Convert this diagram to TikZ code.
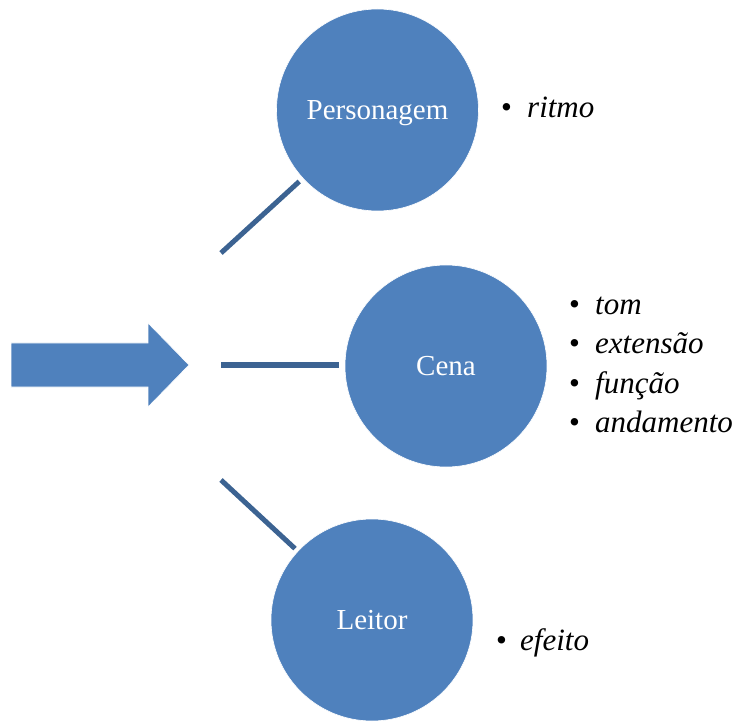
\documentclass[tikz,border=0pt]{standalone}
\usepackage{fontspec}
\setmainfont{Liberation Serif}[ItalicFont={Liberation Serif Italic}]
\definecolor{circblue}{RGB}{79,129,189}
\definecolor{lineblue}{RGB}{60,99,146}
\begin{document}
\begin{tikzpicture}[x=1pt,y=-1pt,
  bubble/.style={circle,fill=circblue,draw=white,line width=0.6pt,minimum size=202pt,inner sep=0pt,outer sep=0pt,
    text=white,text height=19pt,text depth=0pt,font=\fontsize{29}{35}\selectfont},
  link/.style={draw=lineblue,line width=5pt,line cap=butt},
  item/.style={anchor=base west,inner sep=0pt,font=\fontsize{31}{37}\selectfont}]
\useasboundingbox (0,0) rectangle (737,722);
% block arrow
\fill[circblue,draw=white,line width=0.6pt] (11,343) -- (148,343) -- (148,323) -- (189,365) -- (148,407) -- (148,387) -- (11,387) -- cycle;
% circles
\node[bubble] (pers) at (377.5,110) {Personagem};
\node[bubble] (cena) at (446,366) {Cena};
\node[bubble] (leit) at (372,620) {Leitor};
% free ends
\coordinate (j1) at (221,253);
\coordinate (j2) at (221,365);
\coordinate (j3) at (221,480);
\draw[link,shorten >=5pt] (j1) -- (pers);
\draw[link,shorten >=6pt] (j2) -- (cena.west |- j2);
\draw[link,shorten >=4pt] (j3) -- (leit);
% bullet lists
\node[item] (b1) at (501,118) {\makebox[26pt][l]{•}\textit{ritmo}};
\node[item] (b2) at (569,315) {\makebox[26pt][l]{•}\textit{tom}};
\node[item] (b3) at (569,354) {\makebox[26pt][l]{•}\textit{extensão}};
\node[item] (b4) at (569,393) {\makebox[26pt][l]{•}\textit{função}};
\node[item] (b5) at (569,432) {\makebox[26pt][l]{•}\textit{andamento}};
\node[item] (b6) at (496,650) {\makebox[24pt][l]{•}\textit{efeito}};
\end{tikzpicture}
\end{document}
